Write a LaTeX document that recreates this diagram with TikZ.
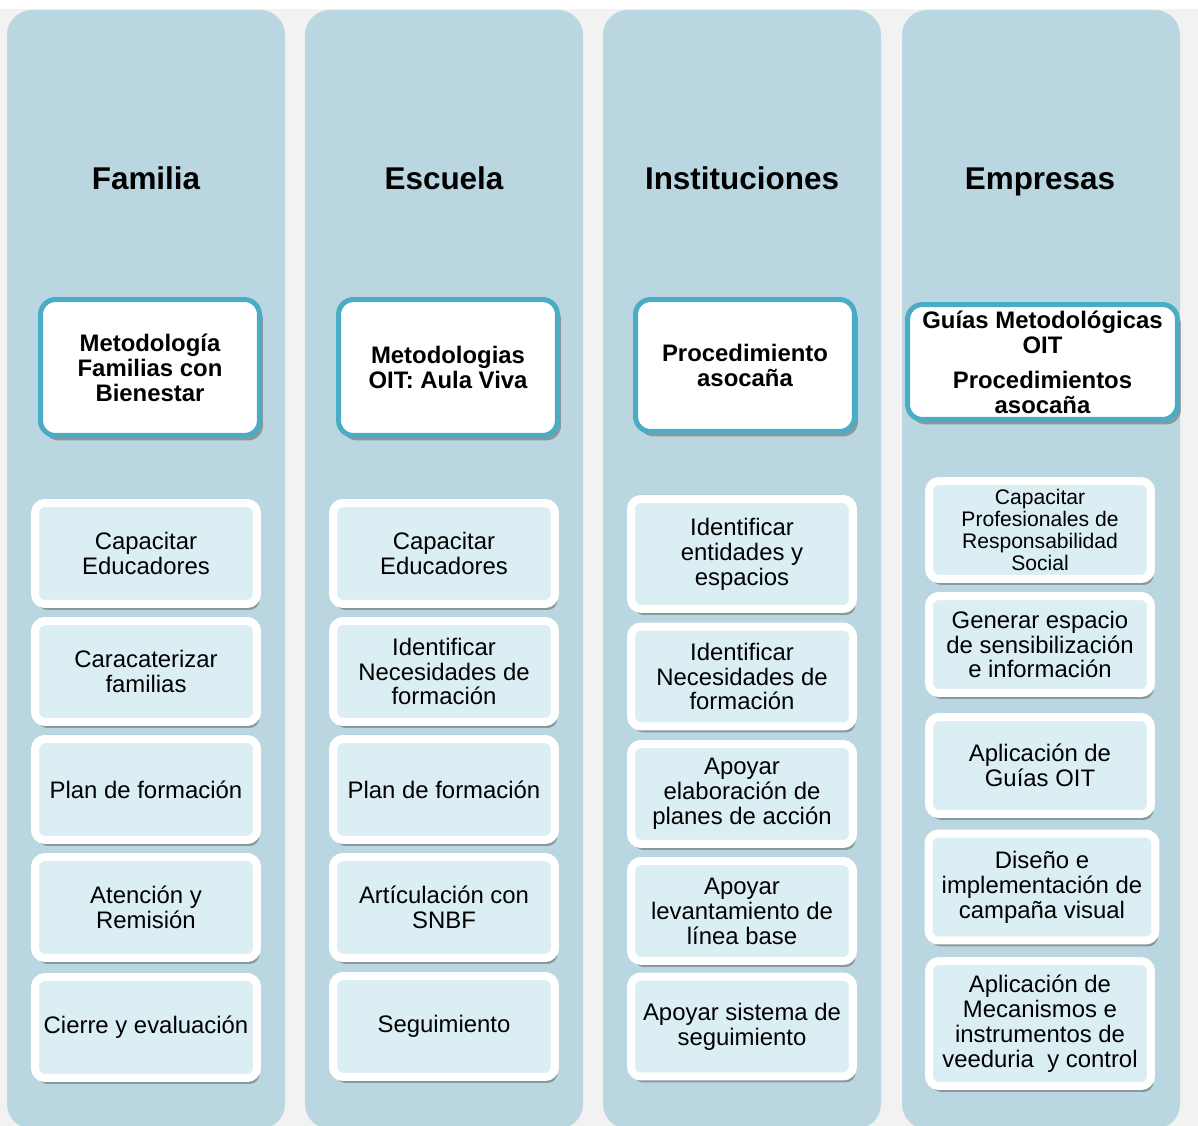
\documentclass[tikz,border=0pt]{standalone}
\usepackage{fontspec}
\setmainfont{Liberation Sans}
\usetikzlibrary{shadows}
\definecolor{colbg}{RGB}{186,215,225}
\definecolor{pagebg}{RGB}{242,242,242}
\definecolor{itembg}{RGB}{218,238,243}
\definecolor{metborder}{RGB}{75,172,198}
\tikzset{
  header/.style={anchor=base, font=\bfseries\fontsize{17.9}{20}\selectfont},
  metbox/.style={draw=metborder, line width=0.1cm, fill=white, rounded corners=0.3cm,
    inner sep=0pt, align=center, font=\bfseries\fontsize{13.6}{14.2}\selectfont,
    drop shadow={shadow xshift=0.07cm, shadow yshift=-0.1cm, opacity=0.45, fill=black!70}},
  itembox/.style={draw=white, line width=0.16cm, fill=itembg, rounded corners=0.2cm,
    inner sep=0pt, align=center, minimum width=4.44cm, font=\fontsize{13.6}{14.2}\selectfont,
    drop shadow={shadow xshift=0.05cm, shadow yshift=-0.12cm, opacity=0.45, fill=black!70}},
  smalltext/.style={font=\fontsize{12}{12.5}\selectfont}
}
\begin{document}
\begin{tikzpicture}[x=0.02cm,y=-0.02cm]
\useasboundingbox (0,0) rectangle (1198,1126);
\fill[pagebg] (0,9) rectangle (1198,1126);
\foreach \X in {7,305,603,902}
  \fill[colbg, rounded corners=0.5cm] (\X,10) rectangle ++(278,1119);
% headers
\node[header] (fam) at (146,189) {Familia};
\node[header] (esc) at (444,189) {Escuela};
\node[header] (inst) at (742,189) {Instituciones};
\node[header] (emp) at (1040,189) {Empresas};
% methodologies
\node[metbox, minimum width=4.38cm, minimum height=2.72cm] (famMet) at (150,367.5) {Metodología\\Familias con\\Bienestar};
\node[metbox, minimum width=4.38cm, minimum height=2.72cm] (escMet) at (448,367.5) {Metodologias\\OIT: Aula Viva};
\node[metbox, minimum width=4.38cm, minimum height=2.64cm] (instMet) at (745,365.5) {Procedimiento\\asocaña};
\node[metbox, minimum width=5.4cm, minimum height=2.3cm] (empMet) at (1042.5,362) {Guías Metodológicas\\OIT\\[5.7pt]Procedimientos\\asocaña};
% Familia
\node[itembox, minimum height=2.02cm] (famA) at (146,553.5) {Capacitar\\Educadores};
\node[itembox, minimum height=2.02cm] (famB) at (146,671.5) {Caracaterizar\\familias};
\node[itembox, minimum height=2.02cm] (famC) at (146,789.5) {Plan de formación};
\node[itembox, minimum height=2.02cm] (famD) at (146,907.5) {Atención y\\Remisión};
\node[itembox, minimum height=2.02cm] (famE) at (146,1027.5) {Cierre y evaluación};
% Escuela
\node[itembox, minimum height=2.02cm] (escA) at (444,553.5) {Capacitar\\Educadores};
\node[itembox, minimum height=2.02cm] (escB) at (444,671.5) {Identificar\\Necesidades de\\formación};
\node[itembox, minimum height=2.02cm] (escC) at (444,789.5) {Plan de formación};
\node[itembox, minimum height=2.02cm] (escD) at (444,907.5) {Artículación con\\SNBF};
\node[itembox, minimum height=2.02cm] (escE) at (444,1026.5) {Seguimiento};
% Instituciones
\node[itembox, minimum height=2.2cm] (instA) at (742,554) {Identificar\\entidades y\\espacios};
\node[itembox, minimum height=2.0cm] (instB) at (742,676.5) {Identificar\\Necesidades de\\formación};
\node[itembox, minimum height=2.0cm] (instC) at (742,794) {Apoyar\\elaboración de\\planes de acción};
\node[itembox, minimum height=2.0cm] (instD) at (742,911) {Apoyar\\levantamiento de\\línea base};
\node[itembox, minimum height=2.0cm] (instE) at (742,1026.5) {Apoyar sistema de\\seguimiento};
% Empresas
\node[itembox, smalltext, minimum height=1.96cm] (empA) at (1040,530) {Capacitar\\Profesionales de\\Responsabilidad\\Social};
\node[itembox, minimum height=1.94cm] (empB) at (1040,644.5) {Generar espacio\\de sensibilización\\e información};
\node[itembox, minimum height=1.94cm] (empC) at (1040,765.5) {Aplicación de\\Guías OIT};
\node[itembox, minimum width=4.54cm, minimum height=2.14cm] (empD) at (1042,887) {Diseño e\\implementación de\\campaña visual};
\node[itembox, minimum height=2.5cm] (empE) at (1040,1023.5) {Aplicación de\\Mecanismos e\\instrumentos de\\veeduria~ y control};
\end{tikzpicture}
\end{document}
